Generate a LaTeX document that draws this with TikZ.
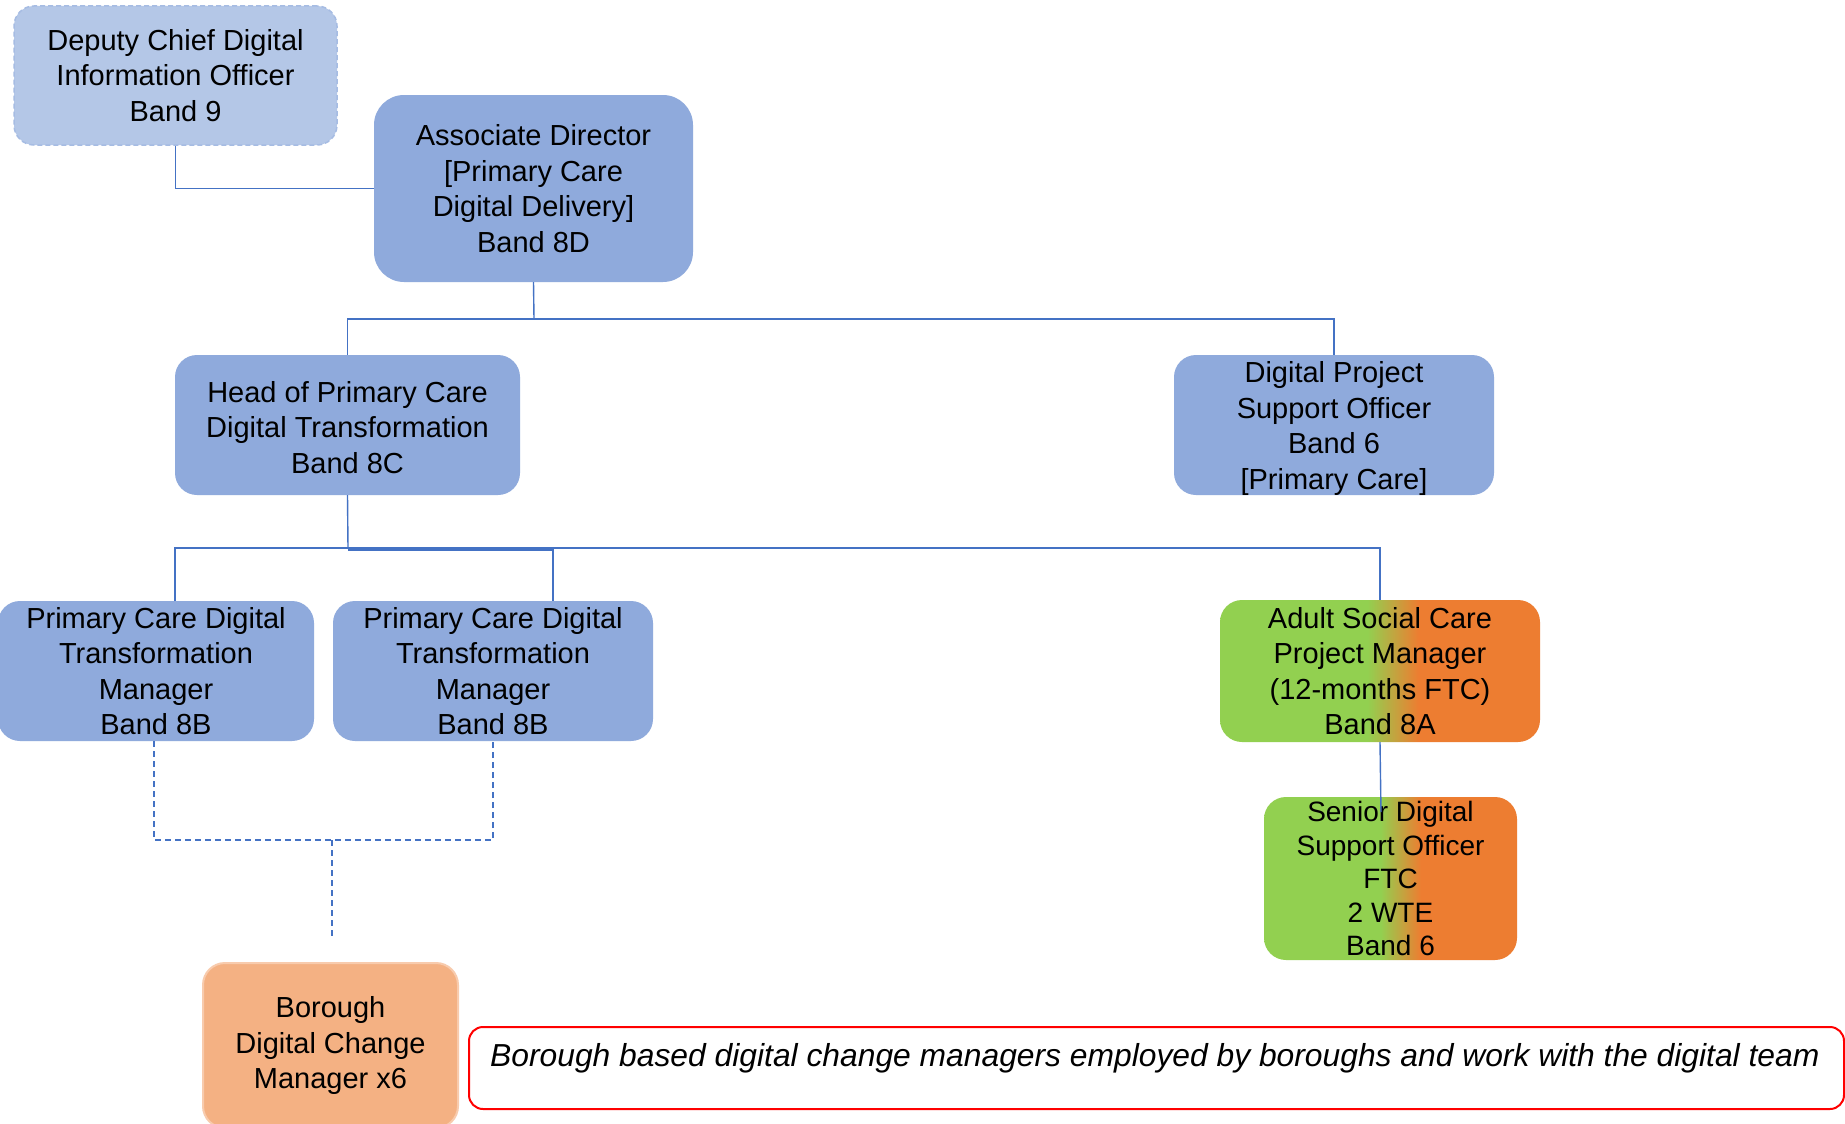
\documentclass[tikz,border=0pt]{standalone}
\usepackage{fontspec}
\setmainfont{Liberation Sans}
\definecolor{boxblue}{HTML}{8FAADC}
\definecolor{lightblue}{HTML}{B4C7E7}
\definecolor{lightbluedash}{HTML}{A6BCE3}
\definecolor{linkblue}{HTML}{4472C4}
\definecolor{ascgreen}{HTML}{92D050}
\definecolor{ascorange}{HTML}{ED7D31}
\definecolor{borofill}{HTML}{F4B183}
\definecolor{boroedge}{HTML}{F8CBAD}
\definecolor{notered}{HTML}{FF0000}
\pgfdeclarehorizontalshading{ascgrad}{100bp}{color(0bp)=(ascgreen); color(48bp)=(ascgreen); color(56bp)=(ascorange); color(100bp)=(ascorange)}
\begin{document}
\begin{tikzpicture}[x=1pt,y=-1pt,
  role/.style={rectangle, rounded corners=22pt, inner sep=0pt, align=center,
    font=\fontsize{29}{35.5}\selectfont},
  bluebox/.style={role, fill=boxblue},
  dashbox/.style={role, fill=lightblue, draw=lightbluedash, line width=1.5pt, dash pattern=on 5pt off 3pt},
  gradbox/.style={role, shading=ascgrad},
  borobox/.style={role, fill=borofill, draw=boroedge, line width=2pt},
  notebox/.style={rectangle, rounded corners=14pt, draw=notered, line width=2pt, fill=white},
  link/.style={draw=linkblue, line width=1.4pt},
  dlink/.style={draw=linkblue, line width=1.4pt, dash pattern=on 6pt off 4pt}
]
\useasboundingbox (0,0) rectangle (1845,1124);
\fill[white] (0,0) rectangle (1845,1124);

% junction coordinates
\coordinate (j1) at (534,319);
\coordinate (j2) at (348,548);
\coordinate (j2b) at (348,550);
\coordinate (dj) at (332,840);
\coordinate (dend) at (332,939);
\coordinate (sconn) at (1381,812);
\coordinate (pc1top) at (175,601);
\coordinate (pc2top) at (553,601);
\coordinate (pc1bot) at (154,741);
\coordinate (pc2bot) at (493,741);

% nodes
\node[dashbox, minimum width=323pt, minimum height=139pt, rounded corners=20pt] (dep) at (175.5,75.5)
  {Deputy Chief Digital\\Information Officer\\Band 9};
\node[bluebox, minimum width=319pt, minimum height=187pt, rounded corners=30pt] (assoc) at (533.5,188.5)
  {Associate Director\\{[}Primary Care\\Digital Delivery{]}\\Band 8D};
\node[bluebox, minimum width=345pt, minimum height=140pt] (head) at (347.5,425) {};
\node[role] (headtext) at (347.5,427.5)
  {Head of Primary Care\\Digital Transformation\\Band 8C};
\node[bluebox, minimum width=320pt, minimum height=140pt] (dpso) at (1334,425) {};
\node[role] (dpsotext) at (1334,428.5)
  {Digital Project\\Support Officer\\Band 6\\{[}Primary Care{]}};
\node[bluebox, minimum width=316pt, minimum height=140pt] (pc1) at (156,671)
  {Primary Care Digital\\Transformation\\Manager\\Band 8B};
\node[bluebox, minimum width=320pt, minimum height=140pt] (pc2) at (493,671)
  {Primary Care Digital\\Transformation\\Manager\\Band 8B};
\node[gradbox, minimum width=320pt, minimum height=142pt] (asc) at (1380,671)
  {Adult Social Care\\Project Manager\\(12-months FTC)\\Band 8A};
\node[gradbox, minimum width=253pt, minimum height=163pt, font=\fontsize{28}{33.5}\selectfont] (senior) at (1390.5,878.5)
  {Senior Digital\\Support Officer\\FTC\\2 WTE\\Band 6};
\node[borobox, minimum width=255pt, minimum height=165pt] (boro) at (330.5,1045.5)
  {Borough\\Digital Change\\Manager x6};
\node[notebox, minimum width=1375pt, minimum height=82pt] (note) at (1156.5,1068) {};
\node[anchor=base west, inner sep=0pt, font=\fontsize{31.8}{38}\selectfont\itshape] (notetext) at (490,1066)
  {Borough based digital change managers employed by boroughs and work with the digital team};

% solid links
\draw[link] (dep.south) |- (assoc.west);
\draw[link] (assoc.south) -- (j1);
\draw[link] (head.north) -- (head.north |- j1) -- (dpso.north |- j1) -- (dpso.north);
\draw[link] (head.south) -- (j2);
\draw[link] (pc1top) -- (pc1top |- j2) -- (asc.north |- j2) -- (asc.north);
\draw[link] (j2b) -- (pc2top |- j2b) -- (pc2top);
\draw[link] (asc.south) -- (sconn);

% dashed links
\draw[dlink] (pc1bot) -- (pc1bot |- dj) -- (pc2bot |- dj) -- (pc2bot);
\draw[dlink] (dj) -- (dend);
\end{tikzpicture}
\end{document}
